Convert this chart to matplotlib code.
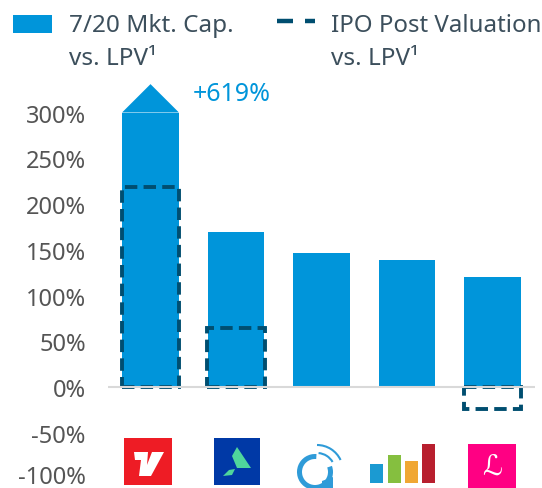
import matplotlib
matplotlib.use('Agg')
import matplotlib.pyplot as plt
from matplotlib.patches import Polygon, Rectangle, Arc
from matplotlib.transforms import ScaledTranslation

plt.rcParams['font.family'] = ['Noto Sans', 'DejaVu Sans']

W, H = 542, 489
BLUE = '#0095DA'
DARK = '#004E70'
TEXT = '#3C4F5C'

companies = ['Vroom', 'Accolade', 'Quotient', 'Health Catalyst', 'Lemonade']
mkt_cap = [619, 169, 146, 139, 120]
ipo_post = [219, 64, None, None, -24]
y_ticks = [-100, -50, 0, 50, 100, 150, 200, 250, 300]
y_cap = 300
arrow_tip = 331

fig = plt.figure(figsize=(W / 100, H / 100), dpi=100)

# main axes, placed in pixels
left, right, top, bottom = 108, 535, 70, 489
ax = fig.add_axes([left / W, 1 - bottom / H, (right - left) / W, (bottom - top) / H])
ax.set_xlim(-0.497, 4.497)
ax.set_ylim((388 - bottom) / 0.915, (388 - top) / 0.915)
ax.patch.set_alpha(0)
for s in ax.spines.values():
    s.set_visible(False)
ax.set_xticks([])
ax.set_yticks(y_ticks)
ax.set_yticklabels([f'{v}%' for v in y_ticks], fontsize=17, color='#555555')
ax.tick_params(axis='y', length=0, pad=16)
# bottom label would run off the figure
low = ax.get_yticklabels()[0]
low.set_transform(low.get_transform() + ScaledTranslation(0, 4 / 100, fig.dpi_scale_trans))

bar_w = 0.665
ax.bar(range(len(companies)), [min(v, y_cap) for v in mkt_cap], width=bar_w, color=BLUE, zorder=2)
ax.add_patch(Polygon([(-bar_w / 2, y_cap), (0, arrow_tip), (bar_w / 2, y_cap)], color=BLUE, lw=0, zorder=2))
ax.text(0.5, 321, '+619%', color=BLUE, fontsize=18, va='center', ha='left')

for i, v in enumerate(ipo_post):
    if v is None:
        continue
    # base sits just under the zero line so only the lower half of the dash shows
    ax.bar(i, v + 0.5, bottom=-0.5, width=bar_w + 0.01, facecolor='none', edgecolor=DARK, lw=2.8,
           linestyle=(0, (3.2, 1.6)), zorder=3)
ax.axhline(0, color='#D9D9D9', lw=1.5, zorder=4)

# overlay in pixel coords for legend and logos
ov = fig.add_axes([0, 0, 1, 1])
ov.set_xlim(0, W)
ov.set_ylim(H, 0)
ov.axis('off')
ov.patch.set_alpha(0)

ov.add_patch(Rectangle((13, 16), 39, 18, color=BLUE, lw=0))
ov.plot([277, 293], [22, 22], color=DARK, lw=3.2, solid_capstyle='butt')
ov.plot([305, 315], [22, 22], color=DARK, lw=3.2, solid_capstyle='butt')
ov.text(69, 32.5, '7/20 Mkt. Cap.', fontsize=17.5, color=TEXT, va='baseline')
ov.text(69, 65, 'vs. LPV¹', fontsize=17.5, color=TEXT, va='baseline')
ov.text(331, 32.5, 'IPO Post Valuation', fontsize=17.3, color=TEXT, va='baseline')
ov.text(331, 65, 'vs. LPV¹', fontsize=17.5, color=TEXT, va='baseline')

# logo 1
ov.add_patch(Rectangle((124, 439), 48, 47, color='#EE1C25', lw=0))
ov.add_patch(Polygon([(134, 453), (148, 453), (147, 466), (152, 453), (164, 453), (151, 477), (139, 477), (141, 461), (135, 461)],
                     color='white', lw=0))
# logo 2
ov.add_patch(Rectangle((214, 439), 46, 47, color='#0039A6', lw=0))
ov.add_patch(Polygon([(237, 448), (251, 469), (237, 469), (232, 457)], color='#4FD69C', lw=0))
ov.add_patch(Polygon([(223, 477), (229, 471), (235, 470), (232, 476)], color='#4FD69C', lw=0))
# logo 3
ov.add_patch(Arc((315, 473), 31, 31, theta1=-20, theta2=275, ec='#2F9BD8', lw=3.6))
ov.add_patch(Polygon([(322, 482), (333, 478), (333, 489), (322, 489)], color='#2F9BD8', lw=0))
ov.add_patch(Arc((317, 472), 52, 52, theta1=-90, theta2=-25, ec='#2F9BD8', lw=1.5))
ov.add_patch(Arc((317, 472), 36, 36, theta1=-85, theta2=-30, ec='#2F9BD8', lw=1.5))
# logo 4
for x0, y0, col in [(370, 465, '#1B9AD2'), (388, 456, '#85BF3F'), (405, 462, '#F0A733'), (422, 445, '#B81F2E')]:
    ov.add_patch(Rectangle((x0, y0), 13, 484 - y0, color=col, lw=0))
# logo 5
ov.add_patch(Rectangle((468, 445), 48, 44, color='#FF0083', lw=0))
ov.text(492, 467, 'ℒ', color='white', fontsize=20, ha='center', va='center', family='DejaVu Sans')

fig.savefig('out.png', dpi=100)
